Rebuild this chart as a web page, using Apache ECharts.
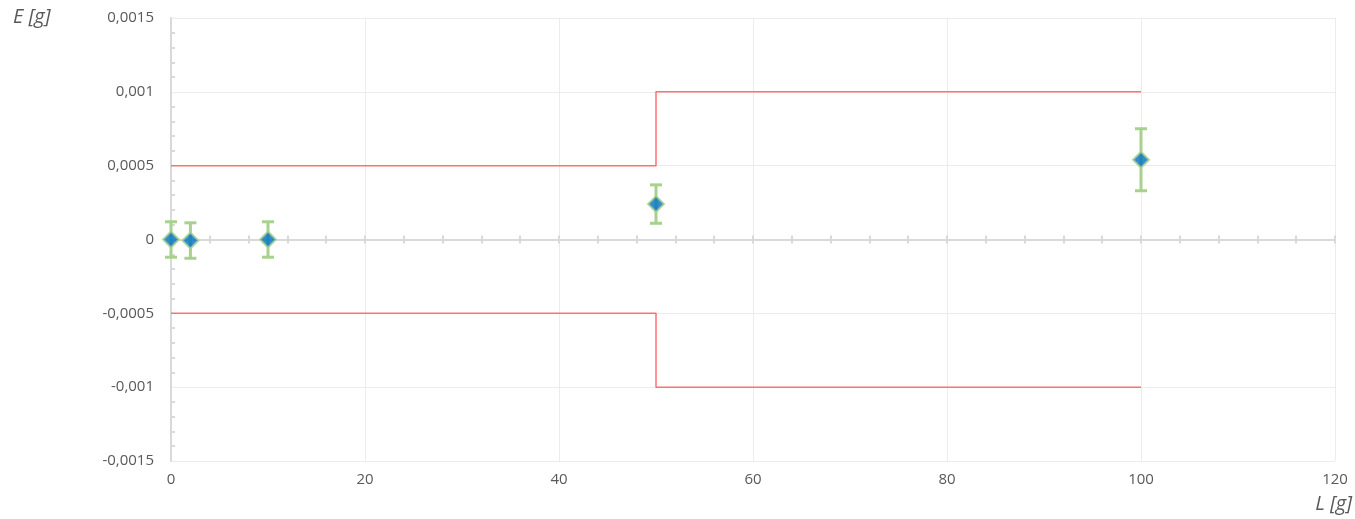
<!DOCTYPE html>
<html>
<head>
<meta charset="utf-8">
<script src="https://cdn.jsdelivr.net/npm/echarts@6/dist/echarts.min.js"></script>
<style>
html,body{margin:0;padding:0;background:#fff;}
#main{width:1355px;height:519px;}
</style>
</head>
<body>
<div id="main"></div>
<script>
// measured points (load L, error E, uncertainty U)
var loadL = [0, 2, 10, 50, 100];
var errorE = [0, -0.000007, 0, 0.00024, 0.00054];
var uncU = [0.00012, 0.00012, 0.00012, 0.00013, 0.00021];
// tolerance limits (step lines)
var limitX = [0, 50, 50, 100];
var limitUp = [0.0005, 0.0005, 0.001, 0.001];
var limitLow = [-0.0005, -0.0005, -0.001, -0.001];

var Mychart = echarts.init(document.getElementById("main"));
var font = '"Open Sans", sans-serif';
var txt = '#595959';

function fmt(v){ return String(+v.toFixed(4)).replace('.', ','); }

var points = loadL.map(function(x,i){ return [x, errorE[i]]; });
var bars = loadL.map(function(x,i){ return [x, errorE[i]-uncU[i], errorE[i]+uncU[i]]; });

var axisBase = {
    type:'value', min:0, max:120, interval:20
};

var option = {
    backgroundColor:'#fff',
    animation:false,
    grid:{left:171, right:20, top:18, bottom:58},
    graphic:[
        {type:'text', left:13, top:7, style:{text:'E [g]', font:'italic 20px ' + font, fill:txt}},
        {type:'text', right:3, top:494, style:{text:'L [g]', font:'italic 20px ' + font, fill:txt}}
    ],
    xAxis:[
        Object.assign({}, axisBase, {
            position:'bottom',
            axisLine:{show:false, onZero:false}, axisTick:{show:false},
            axisLabel:{color:txt, fontFamily:font, fontSize:15, margin:11},
            splitLine:{show:true, lineStyle:{color:'#ececec', width:1}}
        }),
        Object.assign({}, axisBase, {
            position:'bottom',
            axisLine:{show:true, onZero:true, onZeroAxisIndex:0, lineStyle:{color:'#d9d9d9', width:2}},
            axisTick:{show:true, inside:true, length:4, lineStyle:{color:'#d9d9d9', width:2}},
            minorTick:{show:true, splitNumber:5, length:4, lineStyle:{color:'#d9d9d9', width:2}},
            axisLabel:{show:false}, splitLine:{show:false}
        }),
        Object.assign({}, axisBase, {
            position:'bottom',
            axisLine:{show:false, onZero:true, onZeroAxisIndex:0},
            axisTick:{show:true, inside:false, length:4, lineStyle:{color:'#d9d9d9', width:2}},
            minorTick:{show:true, splitNumber:5, length:4, lineStyle:{color:'#d9d9d9', width:2}},
            axisLabel:{show:false}, splitLine:{show:false}
        })
    ],
    yAxis:{
        type:'value', min:-0.0015, max:0.0015, interval:0.0005,
        axisLine:{show:true, onZero:false, lineStyle:{color:'#d9d9d9', width:2}},
        axisTick:{show:false, inside:true},
        minorTick:{show:true, splitNumber:5, length:4, lineStyle:{color:'#d9d9d9', width:2}},
        axisLabel:{color:txt, fontFamily:font, fontSize:15, margin:17, formatter:fmt},
        splitLine:{show:true, lineStyle:{color:'#ececec', width:1}}
    },
    series:[
        {
            type:'line', data:limitX.map(function(x,i){ return [x, limitUp[i]]; }),
            symbol:'none', lineStyle:{color:'#ff7070', width:1.5}, z:2
        },
        {
            type:'line', data:limitX.map(function(x,i){ return [x, limitLow[i]]; }),
            symbol:'none', lineStyle:{color:'#ff7070', width:1.5}, z:2
        },
        {
            type:'custom', data:bars, z:3,
            renderItem:function(params, api){
                var lo = api.coord([api.value(0), api.value(1)]);
                var hi = api.coord([api.value(0), api.value(2)]);
                var w = 6;
                var st = {stroke:'#a9d18e', lineWidth:3};
                return {type:'group', children:[
                    {type:'line', shape:{x1:lo[0], y1:lo[1], x2:hi[0], y2:hi[1]}, style:st},
                    {type:'line', shape:{x1:lo[0]-w, y1:lo[1], x2:lo[0]+w, y2:lo[1]}, style:st},
                    {type:'line', shape:{x1:hi[0]-w, y1:hi[1], x2:hi[0]+w, y2:hi[1]}, style:st}
                ]};
            }
        },
        {
            type:'scatter', data:points, symbol:'diamond', symbolSize:16, z:4,
            itemStyle:{color:'#0070c0', borderColor:'#a9d18e', borderWidth:2}
        }
    ]
};
Mychart.setOption(option);
</script>
</body>
</html>
